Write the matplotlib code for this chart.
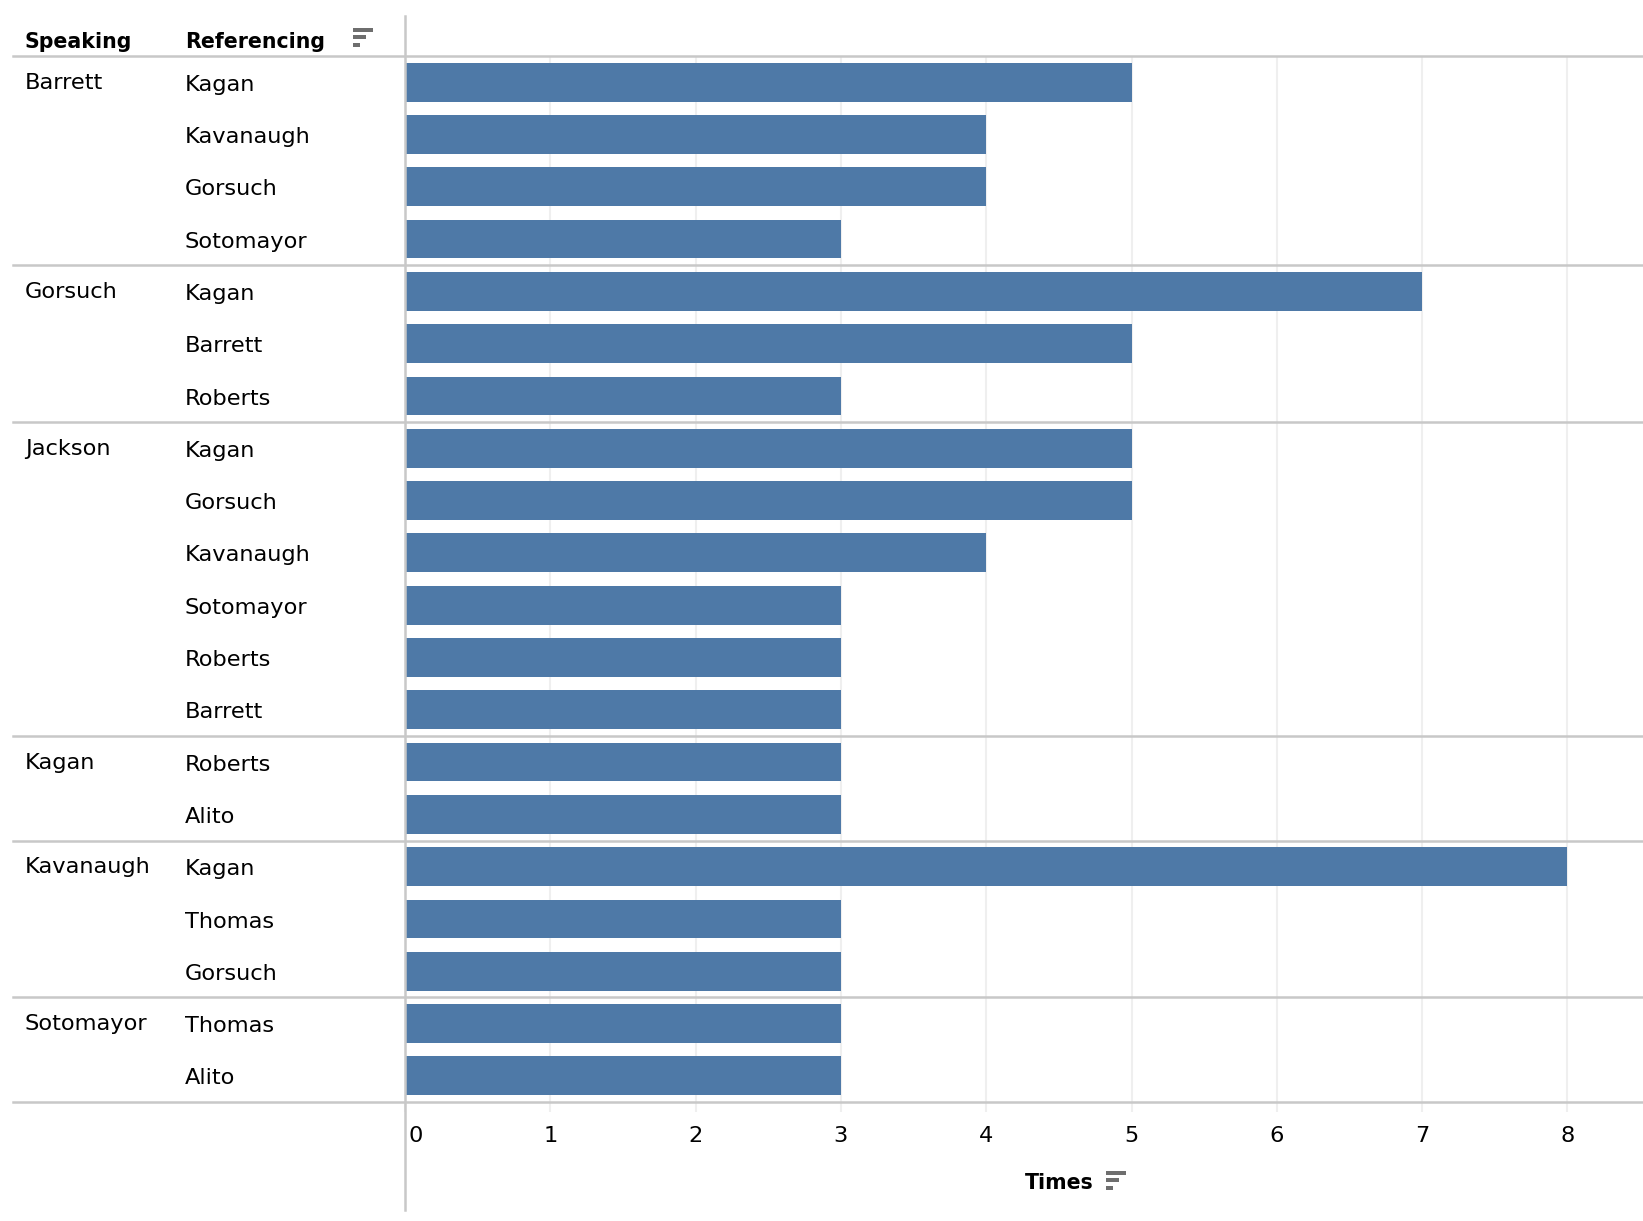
import matplotlib.pyplot as plt
from matplotlib import transforms
from matplotlib.patches import Rectangle
from matplotlib.lines import Line2D

# --------------------------------------------
# DATA
# --------------------------------------------
speakers = ['Barrett', 'Gorsuch', 'Jackson', 'Kagan', 'Kavanaugh', 'Sotomayor']
referenced = [
    ['Kagan', 'Kavanaugh', 'Gorsuch', 'Sotomayor'],
    ['Kagan', 'Barrett', 'Roberts'],
    ['Kagan', 'Gorsuch', 'Kavanaugh', 'Sotomayor', 'Roberts', 'Barrett'],
    ['Roberts', 'Alito'],
    ['Kagan', 'Thomas', 'Gorsuch'],
    ['Thomas', 'Alito'],
]
times = [
    [5, 4, 4, 3],
    [7, 5, 3],
    [5, 5, 4, 3, 3, 3],
    [3, 3],
    [8, 3, 3],
    [3, 3],
]
x_ticks = [0, 1, 2, 3, 4, 5, 6, 7, 8]

# flatten rows
row_ref = [r for grp in referenced for r in grp]
row_val = [v for grp in times for v in grp]
rows = list(range(len(row_val)))

# --------------------------------------------
# LAYOUT (pixel helpers)
# --------------------------------------------
W, H = 1643, 1221
def fx(px):
    return px / W
def fy(py):
    return 1 - py / H

BAR_COLOR = '#4e79a7'
LINE_COLOR = '#c8c8c8'
GRID_COLOR = '#efefef'
ICON_COLOR = '#6e6e6e'
FS = 16.2
FS_BOLD = 14.8
plt.rcParams['font.family'] = ['DejaVu Sans']

fig = plt.figure(figsize=(W / 100, H / 100), dpi=100)
x0, top, bottom = 405, 56, 1102
ax = fig.add_axes([fx(x0), fy(bottom), 1 - fx(x0), (bottom - top) / H])

ax.barh(rows, row_val, height=0.74, color=BAR_COLOR, zorder=2)
ax.set_ylim(len(rows) - 0.5, -0.5)
ax.set_xlim(0, (W - x0) / 145.3)
ax.set_xticks(x_ticks)
ax.set_xticklabels([str(t) for t in x_ticks], fontsize=FS)
ax.tick_params(axis='x', length=7, width=1.5, color=GRID_COLOR, pad=10)
zero_lbl = ax.get_xticklabels()[0]
zero_lbl.set_horizontalalignment('left')
zero_lbl.set_transform(zero_lbl.get_transform()
                       + transforms.ScaledTranslation(3 / 100, 0, fig.dpi_scale_trans))
ax.set_yticks([])
ax.xaxis.grid(True, color=GRID_COLOR, lw=1.5, zorder=0)
ax.set_axisbelow(True)
for s in ax.spines.values():
    s.set_visible(False)

# --------------------------------------------
# ROW / GROUP LABELS
# --------------------------------------------
trans = transforms.blended_transform_factory(fig.transFigure, ax.transData)
row = 0
for spk, grp in zip(speakers, referenced):
    ax.text(fx(25), row + 0.01, spk, transform=trans, fontsize=FS,
            va='center', ha='left')
    for ref in grp:
        ax.text(fx(185), row + 0.05, ref, transform=trans, fontsize=FS,
                va='center', ha='left')
        row += 1
    if row < len(rows):
        fig.add_artist(Line2D([fx(13), 1], [fy(top + row * (bottom - top) / len(rows))] * 2,
                              color=LINE_COLOR, lw=1.8))

# header / bottom lines and vertical separator
fig.add_artist(Line2D([fx(13), 1], [fy(top)] * 2, color=LINE_COLOR, lw=1.8))
fig.add_artist(Line2D([fx(13), 1], [fy(bottom)] * 2, color=LINE_COLOR, lw=1.8))
fig.add_artist(Line2D([fx(x0), fx(x0)], [fy(16), fy(1210)], color=LINE_COLOR, lw=1.8))

# headers
fig.text(fx(25), fy(42), 'Speaking', fontsize=FS_BOLD, fontweight='bold', va='center')
fig.text(fx(185), fy(42), 'Referencing', fontsize=FS_BOLD, fontweight='bold', va='center')
fig.text(fx(1059), fy(1183), 'Times', fontsize=FS_BOLD, fontweight='bold', va='center', ha='center')

# sort icons
def sort_icon(left, ytop, widths, h=3.8, gap=7.4):
    for i, w in enumerate(widths):
        fig.add_artist(Rectangle((fx(left), fy(ytop + i * gap + h)), w / W, h / H,
                                 color=ICON_COLOR, lw=0))

sort_icon(353, 28, [20, 13, 7])
sort_icon(1106, 1171, [20, 13, 7])

fig.savefig('out.png', dpi=100)
